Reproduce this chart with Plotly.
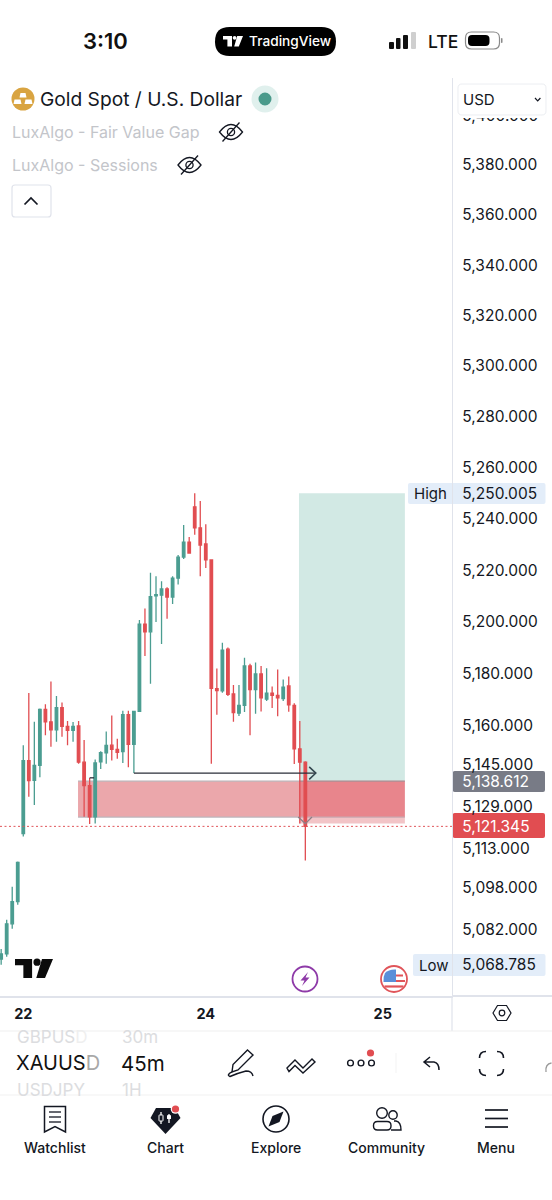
import plotly.graph_objects as go

# ---------- data ----------
BAR_INDEX = list(range(-4, 52))
OPENS = [5071.0, 5072.9, 5084.3, 5092.7,
         5118.6, 5146.5, 5138.9, 5144.7, 5166.2, 5161.4, 5158.3, 5166.8, 5159.6, 5158.1,
         5159.8, 5145.9, 5136.9, 5125.0, 5146.0, 5149.5, 5152.4, 5150.8, 5149.9, 5164.1,
         5152.7, 5165.4, 5199.1, 5196.1, 5210.0, 5210.3, 5212.7, 5209.6, 5216.9, 5225.1,
         5230.9, 5244.7, 5236.5, 5230.2, 5224.0, 5174.2, 5173.3, 5189.4, 5172.1, 5164.7,
         5167.7, 5182.9, 5173.8, 5179.8, 5170.1, 5172.4, 5171.6, 5170.3, 5175.2, 5167.7,
         5151.0, 5145.9]
HIGHS = [5074.8, 5085.8, 5098.4, 5108.0,
         5152.4, 5172.5, 5161.4, 5166.5, 5168.1, 5176.9, 5171.3, 5168.8, 5161.7, 5161.3,
         5161.7, 5154.4, 5139.8, 5146.9, 5150.1, 5157.7, 5163.8, 5154.9, 5165.6, 5165.6,
         5165.6, 5200.7, 5205.1, 5219.0, 5217.7, 5215.7, 5213.4, 5217.7, 5225.9, 5237.6,
         5232.9, 5250.005, 5247.0, 5237.9, 5224.1, 5181.9, 5191.9, 5190.0, 5175.6, 5175.6,
         5186.1, 5183.8, 5184.2, 5182.9, 5182.0, 5175.0, 5181.5, 5177.7, 5178.8, 5168.5,
         5161.7, 5146.2]
LOWS = [5068.785, 5071.8, 5082.4, 5091.5,
        5117.5, 5132.7, 5129.5, 5140.1, 5156.2, 5151.8, 5153.7, 5155.6, 5152.4, 5153.7,
        5145.3, 5125.0, 5122.2, 5122.4, 5143.3, 5145.3, 5146.5, 5147.2, 5145.6, 5143.9,
        5141.7, 5165.3, 5186.8, 5176.0, 5199.9, 5191.4, 5201.2, 5206.9, 5214.5, 5224.4,
        5226.4, 5233.8, 5217.7, 5220.9, 5145.3, 5164.1, 5172.6, 5171.3, 5161.4, 5163.6,
        5165.2, 5156.2, 5164.5, 5165.4, 5169.4, 5166.7, 5163.5, 5169.4, 5165.3, 5145.2,
        5122.4, 5108.3]
CLOSES = [5072.9, 5084.3, 5092.7, 5107.6,
          5146.5, 5138.8, 5144.7, 5166.2, 5161.4, 5158.3, 5166.8, 5159.6, 5158.1, 5159.6,
          5145.9, 5136.9, 5125.0, 5145.6, 5149.5, 5152.3, 5150.8, 5149.7, 5164.1, 5152.7,
          5165.4, 5199.1, 5196.1, 5209.7, 5210.5, 5212.7, 5209.6, 5216.9, 5225.1, 5230.9,
          5226.7, 5236.5, 5229.8, 5224.0, 5174.3, 5173.4, 5189.0, 5172.0, 5164.9, 5167.7,
          5182.9, 5173.8, 5179.8, 5170.6, 5172.4, 5171.6, 5170.6, 5174.7, 5167.9, 5151.0,
          5145.9, 5121.345]

PRICE_TICKS = [5400, 5380, 5360, 5340, 5320, 5300, 5280, 5260, 5240, 5220, 5200, 5180,
               5160, 5145, 5129, 5113, 5098, 5082]
TAG_HIGH = 5250.005
TAG_LOW = 5068.785
TAG_ENTRY = 5138.612
TAG_LAST = 5121.345
TIME_TICK_POS = [0, 33, 65]
TIME_TICK_TEXT = ["22", "24", "25"]

ZONE_BOTTOM = 5124.9
STOP_BOTTOM = 5122.4
ZONE_LEFT = 9.9
TARGET_LEFT = 49.85
ZONE_RIGHT = 69.0
PATH_PRICE = 5141.7
PATH_BARS = [20, 52.9]
STUB_BARS = [12, 12.8]
STUB_PRICE = 5139.9

# ---------- styling ----------
W, H = 552, 1200
UP, DOWN = "#4b9d91", "#e14d51"
INK = "#131722"
LINE = "#e0e3eb"
FONT = "Inter"
XR = [-4.21, 77.52]


def X(v):
    return v / W


def Y(v):
    return 1 - v / H


shapes = []
notes = []


def conv(d):
    out, toks, isx = [], d.split(), True
    for t in toks:
        if t.isalpha():
            out.append(t)
            isx = True
        else:
            out.append(f"{X(float(t)):.5f}" if isx else f"{Y(float(t)):.5f}")
            isx = not isx
    return " ".join(out)


def path(d, fill=None, color=None, width=1.4, layer="above"):
    shapes.append(dict(type="path", xref="paper", yref="paper", path=conv(d), layer=layer,
                       fillcolor=fill or "rgba(0,0,0,0)",
                       line=dict(color=color or "rgba(0,0,0,0)", width=width if color else 0)))


def rrect(x0, y0, x1, y1, r, fill=None, color=None, width=1, layer="above"):
    d = (f"M {x0+r} {y0} L {x1-r} {y0} Q {x1} {y0} {x1} {y0+r} L {x1} {y1-r} Q {x1} {y1} {x1-r} {y1} "
         f"L {x0+r} {y1} Q {x0} {y1} {x0} {y1-r} L {x0} {y0+r} Q {x0} {y0} {x0+r} {y0} Z")
    path(d, fill, color, width, layer)


def circ(cx, cy, r, fill=None, color=None, width=1.4, layer="above"):
    shapes.append(dict(type="circle", xref="paper", yref="paper", layer=layer,
                       x0=X(cx - r), x1=X(cx + r), y0=Y(cy + r), y1=Y(cy - r),
                       fillcolor=fill or "rgba(0,0,0,0)",
                       line=dict(color=color or "rgba(0,0,0,0)", width=width if color else 0)))


def txt(x, y, s, size, color=INK, anchor="left", weight=400):
    notes.append(dict(x=X(x), y=Y(y), xref="paper", yref="paper", text=s, showarrow=False,
                      xanchor=anchor, yanchor="middle", borderpad=0,
                      font=dict(family=FONT, size=size, color=color, weight=weight)))


def tv_logo(x0, y0, w, h, color):
    u = lambda a: x0 + a * w
    v = lambda b: y0 + b * h
    path(f"M {u(0)} {v(0)} L {u(.45)} {v(0)} L {u(.45)} {v(1)} L {u(.22)} {v(1)} L {u(.22)} {v(.33)} L {u(0)} {v(.33)} Z", color)
    path(f"M {u(.71)} {v(0)} L {u(1)} {v(0)} L {u(.79)} {v(1)} L {u(.56)} {v(1)} Z", color)
    circ(u(.58), v(.17), .095 * w, color)


def eye_off(cx, cy):
    path(f"M {cx-11.5} {cy} Q {cx} {cy-15} {cx+11.5} {cy} Q {cx} {cy+15} {cx-11.5} {cy} Z", None, INK, 1.3)
    circ(cx, cy, 3.6, None, INK, 1.3)
    path(f"M {cx+8.5} {cy-9.5} L {cx-8.5} {cy+9.5}", None, INK, 1.3)


# ---------- chart ----------
fig = go.Figure()
fig.add_trace(go.Scatter(x=XR, y=[TAG_LAST, TAG_LAST], mode="lines", hoverinfo="skip",
                         line=dict(color="#e0555a", width=1, dash="2px,2.5px")))
fig.add_trace(go.Scatter(x=PATH_BARS, y=[PATH_PRICE, PATH_PRICE], mode="lines", hoverinfo="skip",
                         line=dict(color="#2a2e39", width=1.3)))
fig.add_trace(go.Scatter(x=[PATH_BARS[1] - 1.2, PATH_BARS[1], PATH_BARS[1] - 1.2],
                         y=[PATH_PRICE + 2.4, PATH_PRICE, PATH_PRICE - 2.4], mode="lines",
                         hoverinfo="skip", line=dict(color="#33474f", width=1.5)))
fig.add_trace(go.Scatter(x=STUB_BARS, y=[STUB_PRICE, STUB_PRICE], mode="lines", hoverinfo="skip",
                         line=dict(color="#2a2e39", width=1.3)))
fig.add_trace(go.Scatter(x=[49.7, 51, 52.2], y=[ZONE_BOTTOM, STOP_BOTTOM, ZONE_BOTTOM], mode="lines",
                         hoverinfo="skip", line=dict(color="#8d7f86", width=1.3)))
fig.add_trace(go.Candlestick(
    x=BAR_INDEX, open=OPENS, high=HIGHS, low=LOWS, close=CLOSES, hoverinfo="skip",
    increasing=dict(line=dict(color=UP, width=1.3), fillcolor=UP),
    decreasing=dict(line=dict(color=DOWN, width=1.3), fillcolor=DOWN),
    whiskerwidth=0,
))

# position-tool boxes (in price/bar coordinates, behind the candles)
def zone(x0, x1, y0, y1, fill, border=None):
    shapes.append(dict(type="rect", xref="x", yref="y", x0=x0, x1=x1, y0=y0, y1=y1, layer="below",
                       fillcolor=fill, line=dict(width=0)))


zone(TARGET_LEFT, ZONE_RIGHT, TAG_ENTRY, TAG_HIGH, "#d2e9e4")
zone(ZONE_LEFT, TARGET_LEFT, ZONE_BOTTOM, TAG_ENTRY, "#eba7ab")
zone(TARGET_LEFT, ZONE_RIGHT, ZONE_BOTTOM, TAG_ENTRY, "#e8858c")
zone(TARGET_LEFT, ZONE_RIGHT, STOP_BOTTOM, ZONE_BOTTOM, "#f2c4c7")
for x0, x1, p, c in [(ZONE_LEFT, TARGET_LEFT, TAG_ENTRY, "#bcb0b5"), (TARGET_LEFT, ZONE_RIGHT, TAG_ENTRY, "#a9868c"),
                     (ZONE_LEFT, TARGET_LEFT, ZONE_BOTTOM, "#bcb6bc"), (TARGET_LEFT, ZONE_RIGHT, ZONE_BOTTOM, "#c8a9b0")]:
    shapes.append(dict(type="line", xref="x", yref="y", x0=x0, x1=x1, y0=p, y1=p, layer="below",
                       line=dict(color=c, width=1.2)))

# price tags (behind the axis labels)
rrect(408, 483, 545.5, 504, 2, "#e3edf9", layer="below")
rrect(413, 954, 545.5, 976, 2, "#e3edf9", layer="below")
rrect(452.7, 771, 545, 792, 2, "#787b86", layer="below")
rrect(452.7, 813, 545, 838, 2, "#e14d51", layer="below")
txt(413, 493.5, "High", 15)
txt(418, 965, "Low", 15)

# axis rules
path("M 452 996 L 452 1031", None, LINE, 1.2, "below")
path("M 452 996 L 552 996", None, LINE, 2, "below")
path("M 0 1031 L 552 1031", None, "#efefef", 1, "below")
path("M 0 1095 L 552 1095", None, "#f1f1f1", 1, "below")

# ---------- status bar ----------
txt(105, 41, "3:10", 22, "#111111", "center", 600)
rrect(215, 27, 336, 56, 14.5, "#000000")
tv_logo(223, 36, 20, 10.5, "#ffffff")
txt(248, 41.5, "TradingView", 13.7, "#ffffff", "left", 500)
for (x0, x1, top, c) in [(389, 394, 42, "#111111"), (396, 400.5, 38, "#111111"),
                         (403, 408, 35, "#111111"), (411, 416, 32, "#cfcfcf")]:
    rrect(x0, top, x1, 49, 1, c)
txt(427, 41.5, "LTE", 17.5, "#111111", "left", 500)
rrect(465.5, 32, 499.5, 49, 6, None, "#8a8a8a", 1.2)
rrect(468, 35, 489.5, 46, 4, "#000000")
rrect(501, 38, 502.5, 43, .7, "#8a8a8a")

# ---------- legend ----------
circ(23, 99, 11.5, "#d9a441")
for (a, b, t, bt) in [(19.5, 26.5, 93, 97.5), (13.5, 21.5, 99.5, 104), (24.5, 32.5, 99.5, 104)]:
    path(f"M {a+1} {t} L {b-1} {t} L {b} {bt} L {a} {bt} Z", "#ffffff")
txt(39, 99, "Gold Spot / U.S. Dollar", 19.2, INK)
circ(265, 99, 13.5, "#e0f0ed")
circ(265, 99, 6.5, "#4a9a8b")
txt(11, 132, "LuxAlgo - Fair Value Gap", 16, "#c3c5ca")
eye_off(231, 132)
txt(11, 165, "LuxAlgo - Sessions", 16, "#c3c5ca")
eye_off(189.5, 165)
rrect(12, 185, 51, 217, 3, "#ffffff", "#e0e3eb", 1.2)
path("M 24.5 204.5 L 31 198 L 37.5 204.5", None, INK, 1.7)

# USD selector (covers the top tick)
path("M 453 78 L 552 78 L 552 118 L 453 118 Z", "#ffffff")
rrect(458, 84, 546, 115, 4, "#ffffff", "#eceef2", 1)
txt(462, 99, "USD", 15, INK)
path("M 535 98 L 537.7 100.8 L 540.4 98", None, INK, 1.2)

# ---------- chart-area icons ----------
tv_logo(15, 959, 38, 19, "#0b0b0b")
circ(305, 979, 12.5, "#ffffff", "#8e3aa8", 1.8)
path("M 308 972 L 300.5 980.5 L 304.5 980.5 L 302 986 L 309.5 977.5 L 305.5 977.5 Z", "#8e3aa8")
circ(394, 979, 13, "#ffffff", "#e0555a", 1.8)
path("M 385 973 Q 389 969 396 969.5 L 396 982 L 383.5 982 Q 383 977 385 973 Z", "#5b8fd9")
path("M 396 975.5 L 403 975.5 M 396 981 L 405 981", None, "#e0555a", 2.2)
path("M 384.5 986.5 L 403.5 986.5", None, "#e0555a", 2.2)
path("M 497.5 1005.5 L 506.5 1005.5 L 511 1013 L 506.5 1020.5 L 497.5 1020.5 L 493 1013 Z", None, INK, 1.2)
circ(502, 1013, 2.8, None, INK, 1.2)

# ---------- toolbar ----------
txt(16, 1037, 'GBPUS<span style="color:#efefef">D</span>', 17, "#dcdde0")
txt(120.5, 1037, "30m", 17, "#dcdde0")
txt(15, 1063, 'XAUUS<span style="color:#a8a8a8">D</span>', 20, "#111111")
txt(119.5, 1063, "45m", 20.5, "#111111")
txt(16, 1090, 'USDJPY', 17, "#dcdde0")
txt(121, 1090, "1H", 17, "#dcdde0")
path("M 247.5 1050 L 253 1055 L 238 1070 L 232 1072 L 233 1064.5 Z", None, INK, 1.4)
path("M 232 1072 Q 226 1075 230 1076.5 Q 238 1073 246 1071 Q 252 1071 253 1076", None, INK, 1.4)
path("M 287 1068 L 295 1060 L 303 1068 L 312 1059 L 315 1062 L 303 1073 L 295 1065.5 L 289 1071.5 Z", None, INK, 1.4)
for c in (350.5, 361, 371.5):
    circ(c, 1063, 2.9, None, INK, 1.4)
circ(370.5, 1053, 3.6, "#e14d51")
path("M 396 1053 L 396 1073", None, "#f3f3f3", 1)
path("M 430 1057 L 424 1062 L 430 1067 M 424 1062 L 434 1062 Q 439 1063 439 1070", None, INK, 1.5)
for d in ("M 479.5 1058 Q 479.5 1051.5 486 1051.5", "M 497 1051.5 Q 503.5 1051.5 503.5 1058",
          "M 479.5 1069 Q 479.5 1075.5 486 1075.5", "M 497 1075.5 Q 503.5 1075.5 503.5 1069"):
    path(d, None, INK, 1.6)
path("M 551.5 1063 Q 545 1064 546 1072", None, "#9a9a9a", 1.3)

# ---------- nav bar ----------
path("M 44.5 1106.5 L 65.5 1106.5 L 65.5 1132 L 55 1126.5 L 44.5 1132 Z", None, INK, 1.5)
for yy in (1112, 1117, 1122):
    path(f"M 49 {yy} L 61 {yy}", None, INK, 1.3)
path("M 156 1108 L 175 1108 L 180.5 1118 L 165.5 1134 L 150.5 1118 Z", "#131722")
path("M 161 1112 L 161 1124 M 169 1114 L 169 1123", None, "#ffffff", 1.3)
rrect(159, 1115, 163, 1121, .5, "#131722", "#ffffff", 1)
rrect(167, 1115, 171, 1119, .5, "#ffffff")
circ(175.5, 1109, 4.8, "#ffffff")
circ(175.5, 1109, 3.6, "#e14d51")
circ(276, 1119, 13, None, INK, 1.6)
path("M 283.5 1111.5 L 279.5 1122 L 268.5 1126.5 L 272.5 1116 Z", "#131722")
circ(382, 1113, 5.3, None, INK, 1.4)
circ(393, 1115, 4.2, None, INK, 1.4)
rrect(373.5, 1121.5, 391, 1130, 4, None, INK, 1.4)
path("M 394 1121 L 396 1121 Q 401 1122 401 1130 L 391 1130", None, INK, 1.4)
for yy in (1110, 1118.5, 1127):
    path(f"M 485 {yy} L 508 {yy}", None, INK, 1.7)
for x, s in [(55, "Watchlist"), (165.5, "Chart"), (276, "Explore"), (386, "Community"), (496, "Menu")]:
    txt(x, 1147, s, 14, INK, "center", 500)

# ---------- axes ----------
def label(v):
    return f"{v:,.3f}"


tick_vals = PRICE_TICKS + [TAG_HIGH, TAG_LOW, TAG_ENTRY, TAG_LAST]
tick_text = [label(v) for v in PRICE_TICKS] + [
    label(TAG_HIGH), label(TAG_LOW),
    f'<span style="color:#ffffff">{label(TAG_ENTRY)}</span>',
    f'<span style="color:#ffffff">{label(TAG_LAST)}</span>']

fig.update_layout(
    width=W, height=H, margin=dict(l=0, r=0, t=0, b=0), autosize=False,
    paper_bgcolor="#ffffff", plot_bgcolor="#ffffff", showlegend=False,
    boxgap=0.35, dragmode=False,
    shapes=shapes, annotations=notes,
    xaxis=dict(domain=[0, 452 / W], range=XR, type="linear", showgrid=False, zeroline=False,
               rangeslider=dict(visible=False), tickmode="array", tickvals=TIME_TICK_POS,
               ticktext=TIME_TICK_TEXT, ticks="", ticklabelstandoff=4, showline=True,
               linecolor=LINE, linewidth=2,
               tickfont=dict(family=FONT, size=14.5, color=INK, weight=700)),
    yaxis=dict(domain=[1 - 996 / H, 1 - 78 / H], type="log", range=[3.703896, 3.733595], side="right",
               showgrid=False, zeroline=False, showline=True, linecolor=LINE, linewidth=1.2,
               tickmode="array", tickvals=tick_vals, ticktext=tick_text, ticks="",
               ticklabelstandoff=6, tickfont=dict(family=FONT, size=15.5, color=INK)),
)

fig.write_html("out.html", config=dict(displayModeBar=False, staticPlot=True),
               post_script="document.body.style.margin='0';")
